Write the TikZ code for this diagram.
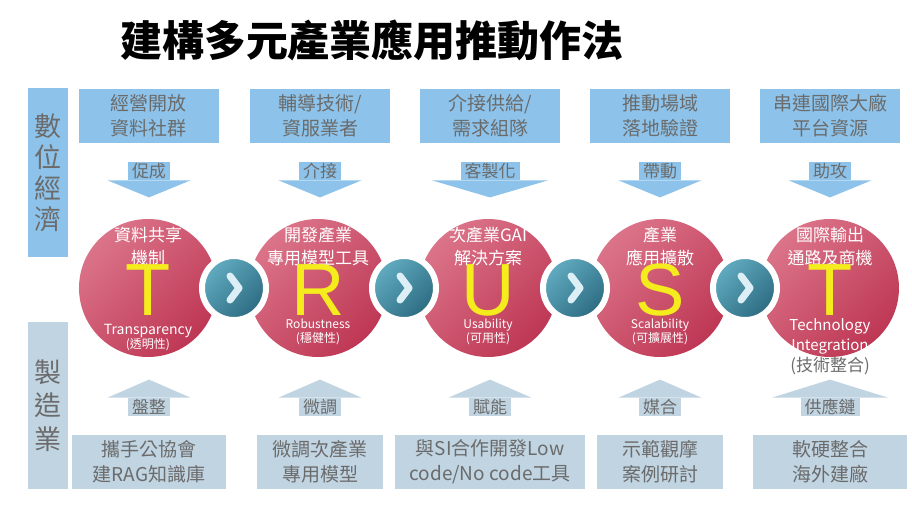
\documentclass[tikz,border=0pt]{standalone}
\usepackage{fontspec}
\setmainfont{Noto Sans CJK TC}
\newfontfamily\letterfont{Liberation Sans}
\usetikzlibrary{calc}

\definecolor{topblue}{HTML}{8DC3EA}
\definecolor{botblue}{HTML}{C0D4E2}
\definecolor{txtgray}{HTML}{6B6B6B}
\definecolor{redlight}{HTML}{DB7489}
\definecolor{reddark}{HTML}{BE3754}
\definecolor{teallight}{HTML}{62ACC1}
\definecolor{tealdark}{HTML}{2C6B81}
\definecolor{letteryellow}{HTML}{F4EC1C}
\definecolor{chevcolor}{HTML}{DCEFF6}

\tikzset{
  topbox/.style={fill=topblue, text=txtgray, minimum width=70pt, minimum height=27pt,
    inner sep=0pt, align=center, font=\fontsize{9.5pt}{12.5pt}\selectfont},
  botbox/.style={fill=botblue, text=txtgray, minimum height=27pt,
    inner sep=0pt, align=center, font=\fontsize{9.5pt}{12.5pt}\selectfont},
  sidebox/.style={text=txtgray, minimum width=20pt, inner sep=0pt, align=center},
  tag/.style={text=txtgray, minimum height=9pt, inner xsep=2pt, inner ysep=0pt,
    font=\fontsize{8.5pt}{9pt}\selectfont},
  redball/.style={circle, minimum size=69pt, inner sep=0pt,
    top color=redlight, bottom color=reddark, shading angle=45},
  tealball/.style={circle, minimum size=32pt, inner sep=0pt, draw=white, line width=3pt,
    top color=teallight, bottom color=tealdark, shading angle=45},
  captop/.style={text=white, align=center, inner sep=0pt, font=\fontsize{8.5pt}{11.5pt}\selectfont},
  capbot/.style={text=white, align=center, inner sep=0pt, font=\fontsize{6pt}{7pt}\selectfont},
  bigletter/.style={text=letteryellow, inner sep=0pt, font=\letterfont\fontsize{37pt}{37pt}\selectfont},
  chev/.style={draw=chevcolor, line width=3.5pt, line cap=round, line join=round}
}

\begin{document}
\begin{tikzpicture}[x=0.5pt,y=-0.5pt]
\useasboundingbox (0,0) rectangle (912,525);

\node (title) at (372,40) {\fontsize{21pt}{25pt}\selectfont\bfseries 建構多元產業應用推動作法};

\node[sidebox, fill=topblue, minimum height=84.5pt, font=\fontsize{13.5pt}{15.5pt}\selectfont]
  (digital) at (48,172.5) {數\\位\\經\\濟};
\node[sidebox, fill=botblue, minimum height=83.5pt, font=\fontsize{13.5pt}{16.75pt}\selectfont]
  (maker) at (48,405.5) {製\\造\\業};

\begin{scope}[every node/.style={topbox}]
    \node (A1) at (149,116) {經營開放\\資料社群};
    \node (A2) at (320,116) {輔導技術/\\資服業者};
    \node (A3) at (490,116) {介接供給/\\需求組隊};
    \node (A4) at (660,116) {推動場域\\落地驗證};
    \node (A5) at (830,116) {串連國際大廠\\平台資源};
\end{scope}

\begin{scope}[every node/.style={tag, fill=topblue}]
    \node (P1) at (149,171) {促成};
    \node (P2) at (320,171) {介接};
    \node (P3) at (490,171) {客製化};
    \node (P4) at (660,171) {帶動};
    \node (P5) at (830,171) {助攻};
\end{scope}
\fill[topblue] ($(P1.south west)+(-20,0)$) -- ($(P1.south east)+(20,0)$) -- ($(P1.south)+(0,17)$) -- cycle;
\fill[topblue] ($(P2.south west)+(-20,0)$) -- ($(P2.south east)+(20,0)$) -- ($(P2.south)+(0,17)$) -- cycle;
\fill[topblue] ($(P3.south west)+(-28,0)$) -- ($(P3.south east)+(28,0)$) -- ($(P3.south)+(0,17)$) -- cycle;
\fill[topblue] ($(P4.south west)+(-20,0)$) -- ($(P4.south east)+(20,0)$) -- ($(P4.south)+(0,17)$) -- cycle;
\fill[topblue] ($(P5.south west)+(-20,0)$) -- ($(P5.south east)+(20,0)$) -- ($(P5.south)+(0,17)$) -- cycle;

\begin{scope}[every node/.style={redball}]
    \node (C1) at (148,288) {};
    \node (C2) at (318,288) {};
    \node (C3) at (488,288) {};
    \node (C4) at (660,288) {};
    \node (C5) at (830,288) {};
\end{scope}

\begin{scope}[every node/.style={tealball}]
    \node (K1) at (234,288) {};
    \node (K2) at (404,288) {};
    \node (K3) at (575,288) {};
    \node (K4) at (745,288) {};
\end{scope}
\draw[chev] ($(K1)+(-4,-12)$) -- ($(K1)+(5,0)$) -- ($(K1)+(-4,12)$);
\draw[chev] ($(K2)+(-4,-12)$) -- ($(K2)+(5,0)$) -- ($(K2)+(-4,12)$);
\draw[chev] ($(K3)+(-4,-12)$) -- ($(K3)+(5,0)$) -- ($(K3)+(-4,12)$);
\draw[chev] ($(K4)+(-4,-12)$) -- ($(K4)+(5,0)$) -- ($(K4)+(-4,12)$);

\begin{scope}[every node/.style={captop}]
    \node (T1) at (148,246.5) {資料共享\\機制};
    \node (T2) at (318,246.5) {開發產業\\專用模型工具};
    \node (T3) at (488,246.5) {次產業GAI\\解決方案};
    \node (T4) at (660,246.5) {產業\\應用擴散};
    \node (T5) at (830,246.5) {國際輸出\\通路及商機};
\end{scope}

\begin{scope}[every node/.style={bigletter}]
    \node (L1) at (148,290) {T};
    \node (L2) at (318,290) {R};
    \node (L3) at (488,290) {U};
    \node (L4) at (660,290) {S};
    \node (L5) at (830,290) {T};
\end{scope}

\begin{scope}[every node/.style={capbot}]
    \node (E1) at (148,337.5) {{\fontsize{7pt}{8.5pt}\selectfont Transparency}\\(透明性)};
    \node (E2) at (318,332) {Robustness\\(穩健性)};
    \node (E3) at (488,332) {Usability\\(可用性)};
    \node (E4) at (660,332) {Scalability\\(可擴展性)};
    \node[font=\fontsize{7.5pt}{10pt}\selectfont] (E5) at (830,336) {Technology\\Integration};
    \node[text=txtgray, font=\fontsize{8.5pt}{10pt}\selectfont] (E6) at (830,366) {(技術整合)};
\end{scope}

\begin{scope}[every node/.style={tag, fill=botblue}]
    \node (Q1) at (149,407) {盤整};
    \node (Q2) at (320,407) {微調};
    \node (Q3) at (490,407) {賦能};
    \node (Q4) at (660,407) {媒合};
    \node (Q5) at (830,407) {供應鏈};
\end{scope}
\fill[botblue] ($(Q1.north west)+(-20,0)$) -- ($(Q1.north east)+(20,0)$) -- ($(Q1.north)+(0,-18)$) -- cycle;
\fill[botblue] ($(Q2.north west)+(-20,0)$) -- ($(Q2.north east)+(20,0)$) -- ($(Q2.north)+(0,-18)$) -- cycle;
\fill[botblue] ($(Q3.north west)+(-20,0)$) -- ($(Q3.north east)+(20,0)$) -- ($(Q3.north)+(0,-18)$) -- cycle;
\fill[botblue] ($(Q4.north west)+(-20,0)$) -- ($(Q4.north east)+(20,0)$) -- ($(Q4.north)+(0,-18)$) -- cycle;
\fill[botblue] ($(Q5.north west)+(-28,0)$) -- ($(Q5.north east)+(28,0)$) -- ($(Q5.north)+(0,-18)$) -- cycle;

\begin{scope}[every node/.style={botbox}]
    \node[minimum width=77pt] (B1) at (149,462) {攜手公協會\\建RAG知識庫};
    \node[minimum width=63pt] (B2) at (320,462) {微調次產業\\專用模型};
    \node[minimum width=95pt] (B3) at (490,462) {與SI合作開發Low\\code/No code工具};
    \node[minimum width=63pt] (B4) at (660,462) {示範觀摩\\案例研討};
    \node[minimum width=77pt] (B5) at (830,462) {軟硬整合\\海外建廠};
\end{scope}
\end{tikzpicture}
\end{document}
